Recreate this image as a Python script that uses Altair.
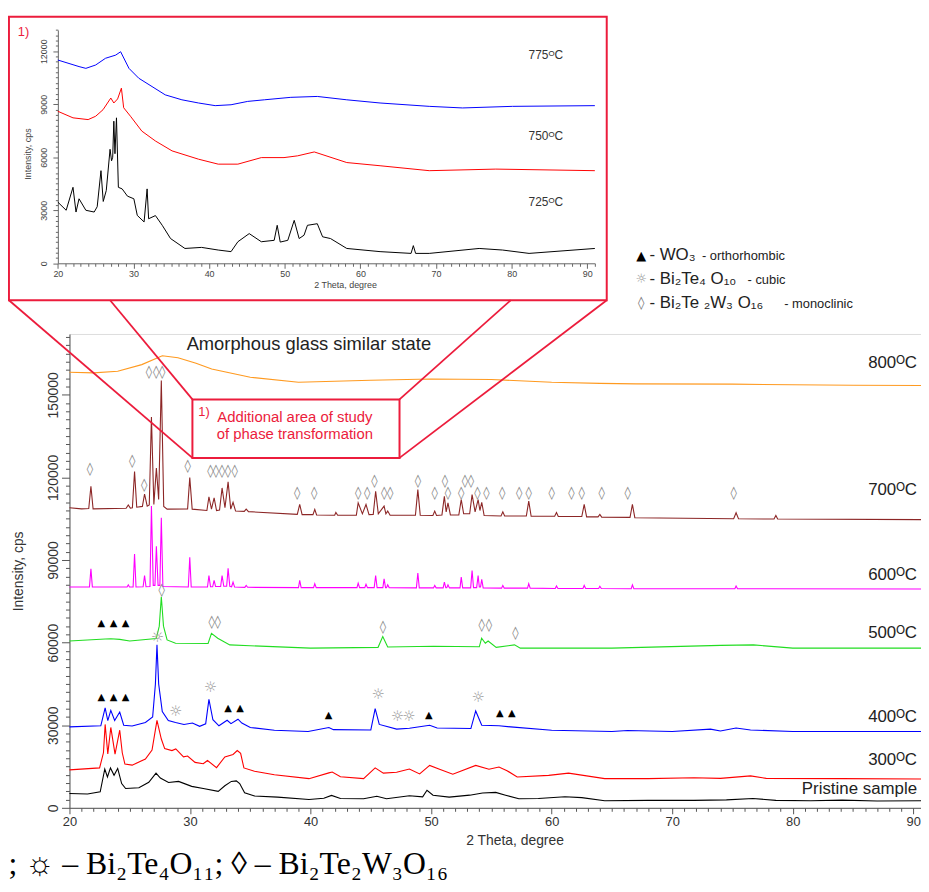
import altair as alt
import pandas as pd

# ---------------- data: (2 theta [deg], intensity [cps]) ----------------
PRISTINE = [(20, 5200), (21.5, 5000), (22.55, 5800), (22.93, 14100), (23.15, 11200), (23.4, 14500),
            (23.7, 11800), (24.0, 14300), (24.33, 8800), (24.66, 7000), (25.76, 7300), (26.58, 9300),
            (27.18, 12600), (27.54, 10800), (28.22, 9200), (29.05, 9600), (30.14, 7800), (31.1, 7000),
            (32.34, 6000), (32.89, 8000), (33.43, 9600), (33.84, 9800), (34.12, 8800), (34.53, 5500),
            (35.35, 4300), (37.27, 3900), (39.87, 3000), (41.1, 3500), (41.74, 4500), (42.48, 3400),
            (44.4, 3300), (45.5, 4200), (46.3, 3300), (48.2, 4400), (49.3, 4000), (49.66, 6400),
            (50.16, 4600), (51.5, 3900), (53.2, 4600), (54.27, 5400), (55.36, 5600), (56.18, 4600),
            (57.28, 3300), (58.9, 3400), (61.1, 4000), (62.5, 3700), (64.4, 2600), (68.0, 2700),
            (71.8, 2700), (74.5, 2900), (76.7, 3400), (78.6, 2700), (81.5, 2600), (84.1, 2800),
            (87.0, 2500), (90.64, 2600)]

T300 = [(20, 13800), (22.5, 14500), (22.82, 20000), (22.96, 30300), (23.18, 19600), (23.43, 29200),
        (23.78, 19500), (24.17, 28200), (24.38, 20000), (24.6, 15900), (25.2, 15500), (26.3, 17700),
        (26.85, 21000), (27.26, 31800), (27.62, 25000), (27.9, 21500), (28.5, 20800), (28.82, 21400),
        (29.46, 18500), (29.8, 18800), (30.42, 16500), (31.1, 16000), (31.45, 17200), (32.2, 14600),
        (32.89, 18500), (33.57, 19400), (33.92, 20800), (34.2, 19800), (34.47, 14500), (35.35, 13300),
        (37.0, 12000), (39.87, 10600), (41.52, 12700), (41.8, 13000), (42.48, 11300), (44.4, 10600),
        (45.36, 14500), (46.04, 12600), (47.14, 12900), (48.2, 14100), (49.05, 12300), (49.88, 15400),
        (50.7, 14000), (51.8, 12200), (53.7, 15400), (54.8, 14000), (55.63, 14800), (56.3, 13500),
        (57.14, 11200), (59.75, 11800), (61.4, 12600), (64.4, 10600), (68.0, 10600), (71.8, 10900),
        (74.0, 10700), (76.5, 11600), (77.8, 10700), (84.0, 10600), (90.64, 10500)]

T400 = [(20, 29400), (22.6, 29800), (22.96, 36300), (23.18, 31700), (23.43, 35400), (23.75, 31700),
        (24.17, 34800), (24.5, 30000), (25.2, 29700), (26.3, 31000), (26.9, 33000), (27.13, 45000),
        (27.26, 59200), (27.4, 45000), (27.7, 35000), (28.2, 31700), (28.8, 31000), (29.5, 30300),
        (30.2, 30800), (30.8, 29600), (31.3, 30500), (31.57, 39400), (31.9, 32000), (32.4, 29800),
        (33.08, 31800), (33.4, 30600), (33.98, 32200), (34.3, 30800), (35.0, 29200), (37.0, 28200),
        (39.8, 27700), (41.52, 29200), (41.9, 28400), (45.0, 28300), (45.36, 36000), (45.7, 30300),
        (47.14, 28600), (48.2, 28900), (49.88, 30000), (50.5, 29000), (53.3, 28800), (53.7, 35200),
        (54.2, 30000), (55.63, 29800), (56.6, 29400), (60.0, 28200), (65.0, 27700), (66.3, 28100),
        (70.0, 27700), (73.18, 28600), (74.0, 27900), (75.3, 29000), (76.5, 28300), (80.0, 27700),
        (90.64, 27700)]

T500 = [(20, 60600), (22.96, 61300), (23.43, 61400), (24.17, 61200), (25.0, 60600), (27.2, 61500),
        (27.45, 66000), (27.62, 76700), (27.8, 66000), (28.1, 61000), (28.8, 59800), (31.5, 59700),
        (31.78, 63400), (32.3, 61600), (33.3, 59200), (35.0, 58900), (40.0, 58000), (45.6, 58300),
        (45.99, 62200), (46.4, 58400), (50.2, 58700), (54.0, 58500), (54.19, 61600), (54.5, 59800),
        (54.73, 60600), (55.4, 58300), (56.92, 59200), (57.4, 58000), (65.0, 58000), (74.0, 59000),
        (76.74, 59200), (80.0, 58000), (90.64, 58000)]

T600 = [(20, 80200), (21.66, 80200), (21.78, 86800), (21.9, 80200), (24.78, 80200), (24.88, 81000),
        (24.98, 80200), (25.28, 80200), (25.4, 92200), (25.52, 80200), (26.11, 80300), (26.23, 84400),
        (26.35, 80300), (26.68, 80400), (26.8, 109600), (26.95, 80800), (27.09, 80800), (27.21, 95000),
        (27.35, 80800), (27.5, 80800), (27.62, 105400), (27.75, 80400), (29.86, 80200), (29.98, 91000),
        (30.1, 80200), (31.45, 80200), (31.57, 84400), (31.7, 80300), (31.88, 80300), (32.0, 82600),
        (32.12, 80400), (32.54, 80400), (32.66, 84400), (32.8, 80500), (33.04, 80500), (33.16, 87000),
        (33.3, 80500), (33.45, 80300), (33.57, 82000), (33.7, 80200), (34.55, 80100), (34.66, 80800),
        (34.78, 80100), (39.0, 80000), (39.1, 82600), (39.22, 80000), (40.25, 80000), (40.35, 81400),
        (40.47, 80000), (43.85, 80000), (43.95, 81600), (44.07, 80000), (44.5, 80000), (44.6, 81200),
        (44.72, 80000), (45.28, 80000), (45.4, 84400), (45.52, 80000), (46.0, 80000), (46.1, 83200),
        (46.22, 80000), (46.3, 80000), (46.4, 81000), (46.52, 80000), (48.78, 79900), (48.9, 85300),
        (49.02, 79900), (50.2, 79900), (50.3, 80800), (50.42, 79900), (51.0, 79900), (51.1, 82000),
        (51.22, 80000), (51.3, 80000), (51.4, 81000), (51.52, 79900), (52.4, 79900), (52.5, 83800),
        (52.62, 79900), (53.28, 79900), (53.4, 86200), (53.52, 80000), (53.78, 80000), (53.9, 84400),
        (54.0, 80200), (54.1, 80200), (54.2, 83000), (54.32, 79900), (55.85, 79800), (55.95, 80800),
        (56.07, 79800), (58.0, 79800), (58.1, 81400), (58.22, 79800), (60.3, 79700), (60.4, 80600),
        (60.52, 79700), (62.6, 79700), (62.7, 80800), (62.82, 79700), (63.9, 79700), (64.0, 80500),
        (64.12, 79700), (66.6, 79600), (66.7, 81000), (66.82, 79600), (75.2, 79600), (75.3, 80600),
        (75.42, 79600), (90.64, 79500)]

T700 = [(20, 109000), (21.0, 108600), (21.6, 108700), (21.78, 116800), (21.96, 108600), (24.7, 108800),
        (24.88, 110000), (25.05, 108900), (25.22, 109000), (25.4, 122200), (25.58, 109200), (26.05, 109500),
        (26.23, 114000), (26.45, 109600), (26.62, 110000), (26.8, 142000), (27.0, 110200), (27.21, 123400),
        (27.4, 112000), (27.62, 155200), (27.82, 109500), (28.1, 108500), (29.8, 108600), (29.98, 120000),
        (30.18, 108500), (31.4, 108000), (31.57, 113000), (31.78, 108500), (32.0, 112600), (32.2, 108000),
        (32.45, 108200), (32.66, 116200), (32.9, 109000), (33.16, 118400), (33.38, 108500), (33.57, 111000),
        (33.78, 107800), (34.5, 107700), (34.66, 108500), (34.85, 107600), (38.9, 106600), (39.1, 110200),
        (39.3, 106500), (40.2, 106500), (40.35, 108400), (40.5, 106400), (42.0, 106300), (42.1, 107300),
        (42.25, 106300), (43.8, 106300), (43.95, 110800), (44.3, 106800), (44.6, 110200), (44.85, 106500),
        (45.2, 106600), (45.4, 115000), (45.62, 106800), (46.1, 109600), (46.25, 106800), (46.4, 107800),
        (46.6, 106300), (48.7, 106300), (48.9, 115600), (49.1, 106300), (50.15, 106200), (50.3, 107800),
        (50.45, 106200), (50.9, 106400), (51.1, 113200), (51.25, 107500), (51.4, 110800), (51.6, 106400),
        (52.3, 106400), (52.5, 112000), (52.7, 106800), (53.2, 106800), (53.4, 113800), (53.65, 107500),
        (53.9, 112000), (54.05, 108000), (54.2, 111000), (54.4, 106200), (55.8, 106000), (55.95, 107500),
        (56.1, 106000), (57.9, 106000), (58.1, 111400), (58.3, 105900), (60.25, 105900), (60.4, 107300),
        (60.55, 105800), (62.5, 105800), (62.7, 110200), (62.9, 105700), (63.85, 105700), (64.0, 106600),
        (64.15, 105600), (66.5, 105500), (66.7, 110200), (66.9, 105400), (75.1, 105000), (75.3, 107200),
        (75.5, 105000), (78.45, 104900), (78.6, 106200), (78.75, 104900), (90.64, 104700)]

T800 = [(20, 158200), (22, 158000), (24, 158600), (26, 161000), (27.7, 164200), (29, 163500),
        (30.5, 161500), (31.8, 159400), (35, 156400), (39, 154600), (45, 155300), (50, 155800),
        (55, 155600), (60, 154600), (64, 154200), (67, 154000), (75, 153900), (85, 153500), (90.64, 153400)]

# inset (725 / 750 / 775 C)
I775 = [(20, 11500), (22.8, 11130), (23.7, 11030), (25.0, 11220), (26.3, 11600), (27.65, 11780),
        (28.3, 11970), (29.4, 11030), (30.7, 10470), (32.45, 10000), (34.2, 9530), (36.4, 9250),
        (38.6, 9070), (40.8, 8920), (42.9, 8970), (45.1, 9160), (47.3, 9250), (50.8, 9390),
        (54.3, 9440), (58.2, 9250), (62.6, 9070), (69.1, 8880), (73.5, 8790), (80.1, 8880), (91, 8920)]
I750 = [(20, 8600), (22, 8230), (24, 8130), (25.0, 8320), (25.97, 8690), (27.0, 9350), (27.4, 9070),
        (27.9, 9300), (28.4, 9910), (28.7, 8800), (29.6, 8320), (31.1, 7480), (32.9, 6920), (35.1, 6360),
        (38.6, 5890), (41.2, 5610), (43.8, 5610), (46.9, 5980), (49.9, 5980), (51.7, 6080), (53.9, 6300),
        (58.2, 5700), (62.6, 5520), (69.1, 5240), (77.9, 5330), (91, 5240)]
I725 = [(20, 3460), (21.1, 3000), (22.0, 4300), (22.4, 2900), (22.8, 3650), (23.7, 3000), (24.8, 2900),
        (25.2, 3200), (25.7, 5240), (26.0, 3500), (26.4, 4120), (26.9, 6450), (27.1, 5800), (27.25, 6000),
        (27.4, 8040), (27.55, 6200), (27.75, 8230), (28.0, 4300), (28.5, 4210), (29.2, 3800), (30.05, 3650),
        (30.5, 2710), (31.4, 2340), (31.8, 4210), (32.0, 2520), (32.9, 2700), (33.8, 2150), (34.9, 1400),
        (36.8, 840), (39.0, 900), (41.2, 750), (42.9, 660), (43.8, 1220), (45.3, 1680), (46.9, 1220),
        (48.6, 1300), (49.0, 2150), (49.4, 1200), (50.4, 1300), (51.25, 2430), (51.9, 1400), (52.55, 1590),
        (53.0, 2150), (54.3, 2240), (55.0, 1500), (56.05, 1400), (58.2, 840), (62.6, 660), (66.7, 560),
        (67.0, 1000), (67.3, 560), (69.1, 560), (75.7, 840), (78.8, 750), (82.3, 560), (91, 840)]

# phase markers
TRIANGLES = [(22.65, 67000), (23.66, 67000), (24.65, 67000), (22.65, 40300), (23.66, 40300),
             (24.65, 40300), (33.15, 36400), (34.15, 36400), (41.5, 33600), (49.8, 33700),
             (55.7, 34300), (56.7, 34300)]
SUNS = [(27.3, 62200), (28.8, 35200), (31.7, 43800), (45.6, 41200), (47.2, 33400), (48.15, 33400),
        (53.9, 40300)]
DIAMONDS = [(26.6, 158200), (27.2, 158200), (27.7, 158200),
            (21.7, 123000), (25.2, 126000), (26.2, 117100), (29.8, 124000),
            (31.7, 122400), (32.15, 122400), (32.65, 122400), (33.15, 122400), (33.7, 122400),
            (38.9, 114400), (40.3, 114400), (43.95, 114400), (44.7, 114400), (46.1, 114400),
            (46.6, 114400), (50.3, 114400), (51.4, 114400), (52.5, 114400), (53.85, 114400),
            (54.6, 114400), (55.9, 114400), (57.3, 114400), (58.1, 114400), (60.0, 114400),
            (61.65, 114400), (62.5, 114400), (64.15, 114400), (66.3, 114400), (75.1, 114400),
            (45.3, 118600), (48.9, 118600), (51.15, 118600), (52.8, 118600), (53.3, 118600),
            (27.66, 79000), (31.8, 67600), (32.3, 67600), (46.0, 65800), (54.2, 66400),
            (54.8, 66400), (57.0, 63600)]

MAIN_LABELS = ["800ᴼC", "700ᴼC", "600ᴼC", "500ᴼC", "400ᴼC", "300ᴼC", "Pristine sample"]
MAIN_LABEL_Y = [161700, 115600, 84600, 63400, 32800, 17300, 6840]
INSET_LABELS = ["775ᴼC", "750ᴼC", "725ᴼC"]
INSET_LABEL_Y = [11760, 7210, 3450]

LEGEND_SYMBOLS = ["▲", "☼", "◊"]
LEGEND_SYMBOL_COLORS = ["#000000", "#999999", "#777777"]
LEGEND_FORMULAS = ["- WO₃", "- Bi₂Te₄ O₁₀", "- Bi₂Te ₂W₃ O₁₆"]
LEGEND_NAMES = ["- orthorhombic", "- cubic", "- monoclinic"]

X_TICKS = list(range(20, 91))
Y_TICKS = list(range(0, 171001, 3000))
IX_TICKS = list(range(20, 92))
IY_TICKS = list(range(0, 13201, 300))

# ---------------- styling ----------------
RED = "#ec1c3c"
SANS = "Liberation Sans"
SYMF = "DejaVu Sans"
W, H = 859, 478

XS = alt.Scale(domain=[20, 90.64], nice=False, zero=False)
YS = alt.Scale(domain=[0, 172130], nice=False, zero=False)
# inset scales: own pixel ranges (relative to the main plot area)
IXS = alt.Scale(domain=[20, 91], range=[-11.7, 530], nice=False, zero=False)
IYS = alt.Scale(domain=[0, 13200], range=[-71.3, -306.65], nice=False, zero=False)

X_AXIS = alt.Axis(orient="bottom", values=X_TICKS, format="d",
                  labelExpr="datum.value % 10 === 0 ? datum.label : ''",
                  tickSize={"condition": {"test": "datum.value % 10 === 0", "value": 6}, "value": 3.5},
                  labelFont=SANS, labelFontSize=13, labelColor="#333", labelPadding=2,
                  labelFlush=False, labelOverlap=False, domainColor="#555", tickColor="#555",
                  grid=False, title="2 Theta, degree", titleFont=SANS, titleFontSize=14,
                  titleFontWeight="normal", titleColor="#333", titleX=449, titleY=33,
                  titleAlign="center", titleBaseline="middle")
Y_AXIS = alt.Axis(orient="left", values=Y_TICKS, format="d",
                  labelExpr="datum.value % 30000 === 0 ? datum.label : ''",
                  tickSize={"condition": {"test": "datum.value % 30000 === 0", "value": 8}, "value": 4},
                  labelFont=SANS, labelFontSize=14, labelColor="#333", labelAngle=270,
                  labelAlign="center", labelBaseline="bottom", labelPadding=1,
                  labelFlush=False, labelOverlap=False, domainColor="#555", tickColor="#555",
                  grid=False, title="Intensity, cps", titleFont=SANS, titleFontSize=14,
                  titleFontWeight="normal", titleColor="#333", titleX=-51, titleAngle=270,
                  titleAlign="center", titleBaseline="middle")
IX_AXIS = alt.Axis(orient="bottom", offset=-549.3, values=IX_TICKS, format="d",
                   labelExpr="datum.value % 10 === 0 ? datum.label : ''",
                   tickSize={"condition": {"test": "datum.value % 10 === 0", "value": 5}, "value": 3},
                   labelFont=SANS, labelFontSize=9, labelColor="#444", labelPadding=1,
                   labelFlush=False, labelOverlap=False, domainColor="#666", tickColor="#666",
                   grid=False, title="2 Theta, degree", titleFont=SANS, titleFontSize=9,
                   titleFontWeight="normal", titleColor="#444", titleX=278, titleY=21,
                   titleAlign="center", titleBaseline="middle")
IY_AXIS = alt.Axis(orient="left", offset=11.7, values=IY_TICKS, format="d",
                   labelExpr="datum.value % 3000 === 0 ? datum.label : ''",
                   tickSize={"condition": {"test": "datum.value % 3000 === 0", "value": 5}, "value": 2.5},
                   labelFont=SANS, labelFontSize=9, labelColor="#444", labelAngle=270,
                   labelAlign="center", labelBaseline="bottom", labelPadding=4,
                   labelFlush=False, labelOverlap=False, domainColor="#666", tickColor="#666",
                   grid=False, title="Intensity, cps", titleFont=SANS, titleFontSize=9,
                   titleFontWeight="normal", titleColor="#444", titleX=-30.3, titleY=-182,
                   titleAngle=270, titleAlign="center", titleBaseline="middle")

MX = alt.X("x:Q", scale=XS, axis=X_AXIS)
MY = alt.Y("y:Q", scale=YS, axis=Y_AXIS)
IX = alt.X("x:Q", scale=IXS, axis=IX_AXIS)
IY = alt.Y("y:Q", scale=IYS, axis=IY_AXIS)


def line(pairs, color, xe, ye, w=1.1):
    df = pd.DataFrame(pairs, columns=["x", "y"])
    return alt.Chart(df).mark_line(color=color, strokeWidth=w).encode(x=xe, y=ye)


def texts(xs, ys, ts, xe, ye, **kw):
    df = pd.DataFrame({"x": xs, "y": ys, "t": ts})
    return alt.Chart(df).mark_text(**kw).encode(x=xe, y=ye, text="t:N")


def symbols(pairs, char, **kw):
    return texts([p[0] for p in pairs], [p[1] for p in pairs], [char] * len(pairs), MX, MY, **kw)


main_layers = [
    line(T800, "#ff9a20", MX, MY),
    line(T700, "#8c2626", MX, MY),
    line(T600, "#ff00ff", MX, MY),
    line(T500, "#22dd22", MX, MY),
    line(T400, "#0000ff", MX, MY),
    line(T300, "#ff0000", MX, MY),
    line(PRISTINE, "#000000", MX, MY),
    symbols(TRIANGLES, "▲", font=SYMF, fontSize=10, color="#000", align="center", baseline="middle"),
    symbols(SUNS, "☼", font=SYMF, fontSize=15, color="#999", align="center", baseline="middle"),
    symbols(DIAMONDS, "◊", font=SYMF, fontSize=13, color="#888", align="center", baseline="middle"),
    texts([90.31] * 7, MAIN_LABEL_Y, MAIN_LABELS, MX, MY, font=SANS, fontSize=17, color="#222",
          align="right", baseline="middle"),
    texts([39.86], [168530], ["Amorphous glass similar state"], MX, MY, font=SANS, fontSize=18.5,
          color="#222", align="center", baseline="middle"),
]

# inset frame, zoom box and connectors (main data units)
box_df = pd.DataFrame({"x": [14.98, 30.2], "x2": [64.57, 47.38],
                       "y": [287360, 148360], "y2": [184370, 127110]})
conn_df = pd.DataFrame({"x": [14.98, 23.37, 64.57, 56.6], "y": [184370] * 4,
                        "x2": [30.2, 30.2, 47.38, 47.38], "y2": [127110, 148360, 127110, 148360]})
legend_sym_df = pd.DataFrame({"x": [67.43] * 3, "y": [200580, 191940, 183400],
                              "t": LEGEND_SYMBOLS, "c": LEGEND_SYMBOL_COLORS})
main_layers += [
    alt.Chart(box_df).mark_rect(filled=False, stroke=RED, strokeWidth=2).encode(
        x=MX, y=MY, x2=alt.X2("x2:Q"), y2=alt.Y2("y2:Q")),
    alt.Chart(conn_df).mark_rule(color=RED, strokeWidth=1.8).encode(
        x=MX, y=MY, x2=alt.X2("x2:Q"), y2=alt.Y2("y2:Q")),
    texts([30.69, 15.72], [143680, 281960], ["1)", "1)"], MX, MY, font=SANS, fontSize=13,
          color=RED, align="left", baseline="middle"),
    texts([38.7, 38.7], [141990, 135650], ["Additional area of study", "of phase transformation"],
          MX, MY, font=SANS, fontSize=15, color=RED, align="center", baseline="middle"),
    # legend
    alt.Chart(legend_sym_df).mark_text(font=SYMF, fontSize=13, align="center", baseline="middle").encode(
        x=MX, y=MY, text="t:N", color=alt.Color("c:N", scale=None)),
    texts([68.11] * 3, [199140, 190130, 181670], LEGEND_FORMULAS, MX, MY, font=SANS, fontSize=17,
          color="#222", align="left", baseline="alphabetic"),
    texts([72.47, 76.25, 79.29], [199140, 190130, 181670], LEGEND_NAMES, MX, MY, font=SANS,
          fontSize=13, color="#222", align="left", baseline="alphabetic"),
    # caption fragment below the figure
    texts([14.95], [-24130], ["; ☼ – Bi₂Te₄O₁₁; ◊ – Bi₂Te₂W₃O₁₆"], MX, MY, font="Liberation Serif",
          fontSize=32, color="#000", align="left", baseline="alphabetic"),
]
main = alt.layer(*main_layers)

inset = alt.layer(
    line(I775, "#0000ff", IX, IY, 1.0),
    line(I750, "#ff0000", IX, IY, 1.0),
    line(I725, "#000000", IX, IY, 1.0),
    texts([86.8] * 3, INSET_LABEL_Y, INSET_LABELS, IX, IY, font=SANS, fontSize=12, color="#333",
          align="right", baseline="middle"),
)

chart = alt.layer(main, inset).resolve_scale(x="independent", y="independent").properties(
    width=W, height=H,
    autosize=alt.AutoSizeParams(type="none"),
    padding={"left": 62, "top": 325, "right": 0, "bottom": 73},
).configure_view(stroke=None).configure(background="white")

chart.save("out.html", embed_options={"renderer": "svg", "actions": False})
